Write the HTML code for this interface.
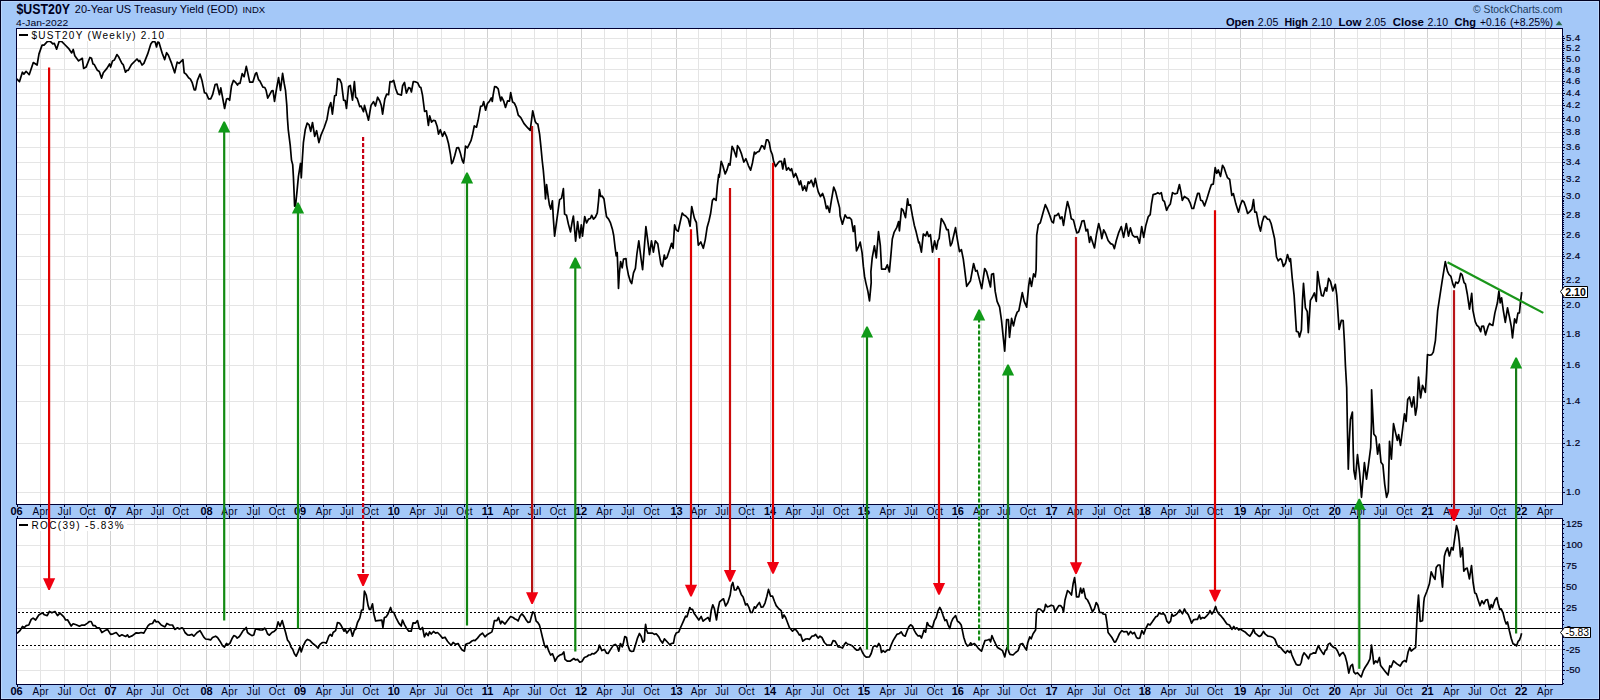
<!DOCTYPE html>
<html><head><meta charset="utf-8"><title>$UST20Y 20-Year US Treasury Yield</title>
<style>html,body{margin:0;padding:0;background:#a4c8f8;}body{width:1600px;height:700px;overflow:hidden;}svg{display:block;font-family:"Liberation Sans",sans-serif;}</style>
</head><body>
<svg width="1600" height="700" viewBox="0 0 1600 700">
<rect x="0" y="0" width="1600" height="700" fill="#a4c8f8"/>
<rect x="0.5" y="0.5" width="1599" height="699" fill="none" stroke="#000020" stroke-width="1"/>
<rect x="1.5" y="1.5" width="1597" height="697" fill="none" stroke="#bcd6fa" stroke-width="1"/>
<rect x="16" y="28" width="1547" height="477" fill="#fff"/>
<rect x="16" y="518" width="1547" height="167" fill="#fff"/>
<g shape-rendering="crispEdges"><path d="M40.5 29 V504 M40.5 519 V684" stroke="#e4e4e4" stroke-width="1" fill="none"/><path d="M64.5 29 V504 M64.5 519 V684" stroke="#e4e4e4" stroke-width="1" fill="none"/><path d="M87.5 29 V504 M87.5 519 V684" stroke="#e4e4e4" stroke-width="1" fill="none"/><path d="M110.5 29 V504 M110.5 519 V684" stroke="#d0d0d0" stroke-width="1" fill="none"/><path d="M134.5 29 V504 M134.5 519 V684" stroke="#e4e4e4" stroke-width="1" fill="none"/><path d="M157.5 29 V504 M157.5 519 V684" stroke="#e4e4e4" stroke-width="1" fill="none"/><path d="M180.5 29 V504 M180.5 519 V684" stroke="#e4e4e4" stroke-width="1" fill="none"/><path d="M206.5 29 V504 M206.5 519 V684" stroke="#d0d0d0" stroke-width="1" fill="none"/><path d="M229.5 29 V504 M229.5 519 V684" stroke="#e4e4e4" stroke-width="1" fill="none"/><path d="M253.5 29 V504 M253.5 519 V684" stroke="#e4e4e4" stroke-width="1" fill="none"/><path d="M276.5 29 V504 M276.5 519 V684" stroke="#e4e4e4" stroke-width="1" fill="none"/><path d="M300.5 29 V504 M300.5 519 V684" stroke="#d0d0d0" stroke-width="1" fill="none"/><path d="M323.5 29 V504 M323.5 519 V684" stroke="#e4e4e4" stroke-width="1" fill="none"/><path d="M346.5 29 V504 M346.5 519 V684" stroke="#e4e4e4" stroke-width="1" fill="none"/><path d="M370.5 29 V504 M370.5 519 V684" stroke="#e4e4e4" stroke-width="1" fill="none"/><path d="M393.5 29 V504 M393.5 519 V684" stroke="#d0d0d0" stroke-width="1" fill="none"/><path d="M417.5 29 V504 M417.5 519 V684" stroke="#e4e4e4" stroke-width="1" fill="none"/><path d="M441.5 29 V504 M441.5 519 V684" stroke="#e4e4e4" stroke-width="1" fill="none"/><path d="M464.5 29 V504 M464.5 519 V684" stroke="#e4e4e4" stroke-width="1" fill="none"/><path d="M487.5 29 V504 M487.5 519 V684" stroke="#d0d0d0" stroke-width="1" fill="none"/><path d="M511.5 29 V504 M511.5 519 V684" stroke="#e4e4e4" stroke-width="1" fill="none"/><path d="M534.5 29 V504 M534.5 519 V684" stroke="#e4e4e4" stroke-width="1" fill="none"/><path d="M557.5 29 V504 M557.5 519 V684" stroke="#e4e4e4" stroke-width="1" fill="none"/><path d="M581.5 29 V504 M581.5 519 V684" stroke="#d0d0d0" stroke-width="1" fill="none"/><path d="M604.5 29 V504 M604.5 519 V684" stroke="#e4e4e4" stroke-width="1" fill="none"/><path d="M627.5 29 V504 M627.5 519 V684" stroke="#e4e4e4" stroke-width="1" fill="none"/><path d="M651.5 29 V504 M651.5 519 V684" stroke="#e4e4e4" stroke-width="1" fill="none"/><path d="M676.5 29 V504 M676.5 519 V684" stroke="#d0d0d0" stroke-width="1" fill="none"/><path d="M698.5 29 V504 M698.5 519 V684" stroke="#e4e4e4" stroke-width="1" fill="none"/><path d="M721.5 29 V504 M721.5 519 V684" stroke="#e4e4e4" stroke-width="1" fill="none"/><path d="M746.5 29 V504 M746.5 519 V684" stroke="#e4e4e4" stroke-width="1" fill="none"/><path d="M770.5 29 V504 M770.5 519 V684" stroke="#d0d0d0" stroke-width="1" fill="none"/><path d="M793.5 29 V504 M793.5 519 V684" stroke="#e4e4e4" stroke-width="1" fill="none"/><path d="M817.5 29 V504 M817.5 519 V684" stroke="#e4e4e4" stroke-width="1" fill="none"/><path d="M841.5 29 V504 M841.5 519 V684" stroke="#e4e4e4" stroke-width="1" fill="none"/><path d="M863.5 29 V504 M863.5 519 V684" stroke="#d0d0d0" stroke-width="1" fill="none"/><path d="M887.5 29 V504 M887.5 519 V684" stroke="#e4e4e4" stroke-width="1" fill="none"/><path d="M911.5 29 V504 M911.5 519 V684" stroke="#e4e4e4" stroke-width="1" fill="none"/><path d="M934.5 29 V504 M934.5 519 V684" stroke="#e4e4e4" stroke-width="1" fill="none"/><path d="M957.5 29 V504 M957.5 519 V684" stroke="#d0d0d0" stroke-width="1" fill="none"/><path d="M981.5 29 V504 M981.5 519 V684" stroke="#e4e4e4" stroke-width="1" fill="none"/><path d="M1003.5 29 V504 M1003.5 519 V684" stroke="#e4e4e4" stroke-width="1" fill="none"/><path d="M1027.5 29 V504 M1027.5 519 V684" stroke="#e4e4e4" stroke-width="1" fill="none"/><path d="M1051.5 29 V504 M1051.5 519 V684" stroke="#d0d0d0" stroke-width="1" fill="none"/><path d="M1075.5 29 V504 M1075.5 519 V684" stroke="#e4e4e4" stroke-width="1" fill="none"/><path d="M1098.5 29 V504 M1098.5 519 V684" stroke="#e4e4e4" stroke-width="1" fill="none"/><path d="M1121.5 29 V504 M1121.5 519 V684" stroke="#e4e4e4" stroke-width="1" fill="none"/><path d="M1144.5 29 V504 M1144.5 519 V684" stroke="#d0d0d0" stroke-width="1" fill="none"/><path d="M1168.5 29 V504 M1168.5 519 V684" stroke="#e4e4e4" stroke-width="1" fill="none"/><path d="M1191.5 29 V504 M1191.5 519 V684" stroke="#e4e4e4" stroke-width="1" fill="none"/><path d="M1215.5 29 V504 M1215.5 519 V684" stroke="#e4e4e4" stroke-width="1" fill="none"/><path d="M1240.5 29 V504 M1240.5 519 V684" stroke="#d0d0d0" stroke-width="1" fill="none"/><path d="M1262.5 29 V504 M1262.5 519 V684" stroke="#e4e4e4" stroke-width="1" fill="none"/><path d="M1285.5 29 V504 M1285.5 519 V684" stroke="#e4e4e4" stroke-width="1" fill="none"/><path d="M1310.5 29 V504 M1310.5 519 V684" stroke="#e4e4e4" stroke-width="1" fill="none"/><path d="M1334.5 29 V504 M1334.5 519 V684" stroke="#d0d0d0" stroke-width="1" fill="none"/><path d="M1357.5 29 V504 M1357.5 519 V684" stroke="#e4e4e4" stroke-width="1" fill="none"/><path d="M1380.5 29 V504 M1380.5 519 V684" stroke="#e4e4e4" stroke-width="1" fill="none"/><path d="M1404.5 29 V504 M1404.5 519 V684" stroke="#e4e4e4" stroke-width="1" fill="none"/><path d="M1427.5 29 V504 M1427.5 519 V684" stroke="#d0d0d0" stroke-width="1" fill="none"/><path d="M1451.5 29 V504 M1451.5 519 V684" stroke="#e4e4e4" stroke-width="1" fill="none"/><path d="M1474.5 29 V504 M1474.5 519 V684" stroke="#e4e4e4" stroke-width="1" fill="none"/><path d="M1498.5 29 V504 M1498.5 519 V684" stroke="#e4e4e4" stroke-width="1" fill="none"/><path d="M1521.5 29 V504 M1521.5 519 V684" stroke="#d0d0d0" stroke-width="1" fill="none"/><path d="M1545.5 29 V504 M1545.5 519 V684" stroke="#e4e4e4" stroke-width="1" fill="none"/><path d="M17 492.5 H1562 M17 443.5 H1562 M17 401.5 H1562 M17 365.5 H1562 M17 334.5 H1562 M17 305.5 H1562 M17 279.5 H1562 M17 256.5 H1562 M17 234.5 H1562 M17 214.5 H1562 M17 196.5 H1562 M17 179.5 H1562 M17 162.5 H1562 M17 147.5 H1562 M17 132.5 H1562 M17 118.5 H1562 M17 105.5 H1562 M17 93.5 H1562 M17 81.5 H1562 M17 69.5 H1562 M17 58.5 H1562 M17 48.5 H1562 M17 38.5 H1562 M17 524.5 H1562 M17 545.5 H1562 M17 566.5 H1562 M17 587.5 H1562 M17 608.5 H1562 M17 649.5 H1562 M17 670.5 H1562" stroke="#e5e5e5" stroke-width="1" fill="none"/></g>
<g shape-rendering="crispEdges"><path d="M17 628.5 H1562" stroke="#000" stroke-width="1"/>
<path d="M18 612.5 H1561 M18 645.5 H1561" stroke="#000" stroke-width="1" stroke-dasharray="2 2"/></g>
<clipPath id="cm"><rect x="17" y="29" width="1545" height="475"/></clipPath>
<clipPath id="cr"><rect x="17" y="519" width="1545" height="165"/></clipPath>
<polyline clip-path="url(#cm)" points="16.7,78.8 19.5,81.6 22.4,72.2 23.9,74.1 26.1,71.3 29.2,74.7 33.3,62.5 37.1,65.0 39.0,53.9 42.1,45.1 44.0,45.1 47.5,41.4 50.3,41.4 52.8,43.9 54.3,43.3 56.6,49.2 59.1,41.4 61.6,41.4 64.7,44.5 68.5,48.3 71.7,52.9 73.2,49.5 74.8,55.8 78.6,60.9 82.3,58.3 83.6,68.4 86.1,67.1 89.9,57.5 91.5,58.3 93.0,64.0 94.3,64.6 97.4,70.3 99.3,71.5 101.6,78.1 103.3,72.8 106.9,68.4 109.6,64.0 110.6,67.1 112.5,60.9 114.4,60.0 116.9,54.6 118.8,57.1 121.9,63.4 123.2,64.6 125.5,72.2 127.0,70.3 128.2,70.3 131.4,64.6 137.0,59.0 138.9,61.5 139.8,60.5 142.0,65.0 143.9,63.4 147.7,53.9 150.8,43.9 152.7,41.4 155.2,42.0 156.5,47.0 157.8,42.0 159.0,42.6 162.2,53.3 164.7,59.6 166.6,52.7 168.4,55.2 171.6,63.4 174.7,72.8 177.2,62.1 179.1,63.4 182.9,59.6 184.2,72.8 186.0,74.1 188.6,77.8 190.4,79.1 192.3,82.9 194.2,89.8 195.5,89.8 197.4,80.3 200.0,74.1 201.9,80.2 204.5,92.8 206.3,93.4 208.6,98.8 210.7,98.8 212.6,94.7 215.1,84.6 217.0,84.2 219.5,94.7 220.8,87.8 224.6,108.5 226.5,99.1 228.1,98.5 229.6,100.3 231.5,85.9 233.4,80.5 235.3,82.1 237.5,85.0 238.4,83.4 240.0,83.4 242.2,73.7 244.1,76.7 246.3,66.4 247.6,72.1 249.7,82.1 252.9,82.1 255.4,73.7 256.6,72.7 258.5,79.6 259.8,80.9 262.9,87.1 264.8,87.5 266.1,90.3 267.7,98.1 271.7,90.9 273.0,90.7 274.5,101.3 276.7,87.8 278.6,77.5 280.5,90.3 282.6,73.3 284.3,84.0 285.5,90.3 286.8,105.4 287.4,117.9 288.3,130.1 290.2,145.1 291.5,160.2 292.7,164.6 293.4,176.6 294.0,190.4 294.6,206.1 295.5,206.1 297.1,190.4 298.4,176.6 300.5,163.4 301.3,177.8 302.2,161.5 303.4,142.6 305.3,129.4 307.2,123.1 309.1,124.8 310.7,131.3 312.5,122.5 314.7,136.3 316.6,130.7 318.9,142.6 321.0,135.1 324.2,127.5 327.0,119.2 328.9,107.9 330.8,102.6 332.4,114.2 334.6,95.9 336.1,95.3 337.7,78.7 339.6,79.2 341.5,83.4 343.6,100.1 345.2,100.6 346.5,108.5 348.6,86.5 350.3,85.5 352.5,100.1 354.4,81.5 355.7,97.2 357.2,98.5 359.7,106.6 361.0,106.0 363.5,111.7 364.5,105.4 368.5,120.2 371.0,105.4 373.5,101.6 375.4,106.0 377.6,97.2 379.8,101.0 381.3,105.4 382.6,114.2 384.8,99.1 386.7,94.1 388.6,94.7 390.0,81.5 391.9,81.9 393.6,80.3 395.7,88.8 397.6,93.9 399.5,94.5 401.4,95.1 402.6,85.7 404.5,82.5 406.4,93.2 408.7,87.6 410.2,88.2 411.4,92.0 413.3,81.5 415.8,81.9 417.7,82.8 419.6,86.9 420.9,87.6 422.5,95.1 424.6,111.5 426.5,110.8 428.4,125.3 429.7,115.9 431.5,122.1 433.4,120.3 435.3,120.9 437.2,126.5 438.5,134.1 440.3,129.7 442.5,136.3 444.4,131.8 446.6,136.6 448.5,143.5 450.4,154.2 451.7,163.6 452.9,161.7 454.8,155.5 456.7,147.9 458.6,147.7 460.5,153.6 462.3,160.5 463.6,163.0 464.5,156.7 465.5,146.0 467.4,147.9 469.3,144.1 471.1,140.4 472.4,135.3 474.3,125.9 476.5,127.2 478.1,120.3 480.6,106.4 482.5,105.8 483.7,101.6 485.6,110.2 487.5,103.3 489.4,101.4 491.3,97.9 492.3,101.4 493.1,95.1 494.6,86.6 496.3,86.9 498.2,88.8 499.4,95.1 500.7,100.8 501.7,97.0 503.8,101.4 505.5,107.4 507.6,100.8 509.5,101.1 510.7,92.6 512.6,102.0 514.5,103.3 516.4,107.7 518.3,115.2 520.8,117.7 523.9,123.4 527.1,127.2 530.2,130.3 531.5,120.3 532.7,110.8 535.2,121.5 536.5,123.4 537.8,124.0 539.6,134.1 540.9,146.7 542.2,160.5 543.3,170.1 544.5,183.9 545.5,199.0 546.6,184.5 548.3,197.7 549.5,205.3 550.8,209.1 552.4,200.9 553.3,217.9 554.6,236.1 557.1,217.9 559.6,199.6 561.5,198.4 563.4,188.7 564.6,214.1 566.5,215.3 568.4,224.1 570.5,231.9 572.2,221.6 573.4,216.0 575.6,241.1 577.6,221.6 579.7,238.0 581.3,224.8 582.5,236.1 584.7,216.6 586.6,222.9 588.5,219.1 590.4,218.5 591.7,215.3 593.5,219.1 595.4,217.2 597.3,212.8 598.6,200.3 599.4,189.6 600.7,196.5 602.3,196.2 604.0,199.0 605.2,207.8 606.5,216.6 608.6,219.1 610.5,222.9 612.4,229.2 613.7,235.5 615.1,247.7 616.2,255.9 617.2,252.5 617.8,267.8 618.5,288.5 619.3,274.1 620.6,261.5 622.2,267.8 623.5,259.0 626.0,258.7 626.6,265.3 628.5,275.3 630.4,281.6 631.7,283.5 633.5,272.8 635.4,268.4 636.9,254.0 638.8,240.8 641.1,259.0 642.6,269.7 644.2,248.9 645.9,226.6 647.7,240.1 649.5,254.6 651.5,240.8 653.4,252.1 655.3,240.8 657.8,243.9 659.3,254.0 660.9,264.0 662.5,266.5 664.3,255.0 665.3,259.2 666.9,257.7 669.4,250.2 671.6,243.3 673.1,248.3 674.6,224.8 676.3,230.1 678.2,231.3 680.1,222.5 682.2,213.1 683.8,215.0 685.7,216.0 688.2,218.8 690.1,226.3 691.7,206.5 694.3,217.9 695.1,220.0 696.4,222.5 698.3,245.2 700.8,242.0 703.3,248.3 705.2,240.1 707.1,227.6 709.0,220.7 710.7,213.0 712.4,200.4 713.9,198.5 716.1,200.4 717.4,185.3 718.7,174.6 719.3,177.1 721.2,161.4 722.7,165.2 725.2,174.0 727.1,169.6 728.7,163.7 730.0,165.2 732.1,146.3 733.7,149.5 736.3,157.0 737.5,145.7 739.3,148.2 741.5,153.9 743.8,162.1 745.9,158.7 748.5,165.8 750.6,170.2 752.5,162.7 754.4,152.0 755.4,153.9 757.3,152.0 759.1,151.4 761.7,145.7 762.9,146.1 764.5,149.1 766.4,139.8 767.9,139.8 769.2,142.6 770.7,150.7 772.3,154.5 773.6,161.4 775.5,166.5 778.0,162.9 779.5,161.4 781.5,161.4 782.8,169.0 784.5,158.7 786.5,170.2 788.4,167.7 790.3,170.5 791.6,168.7 793.7,177.1 795.6,173.4 797.5,178.4 799.4,184.7 800.6,180.9 802.8,190.3 804.6,185.9 806.3,191.0 808.2,181.8 809.4,183.4 811.3,180.3 813.6,186.6 815.3,178.4 817.0,186.6 818.2,191.6 820.5,196.6 822.6,193.5 824.5,199.1 826.4,208.6 827.6,206.1 829.5,212.3 831.4,200.4 833.7,187.2 835.6,191.6 837.7,200.4 839.6,207.9 840.1,215.7 842.4,224.2 845.1,214.9 847.0,217.9 849.5,217.6 851.4,219.5 853.3,231.5 854.6,225.8 856.5,250.9 858.3,247.2 860.2,242.1 862.1,252.8 863.4,266.7 864.6,276.7 865.8,282.6 867.9,291.4 869.5,300.8 871.2,282.6 870.9,271.7 872.2,257.9 874.4,245.9 876.3,257.9 878.5,231.7 880.3,245.3 881.6,269.2 885.4,269.2 887.3,264.8 889.4,271.9 891.0,254.1 892.3,239.0 894.2,232.1 896.7,227.7 898.6,221.6 899.4,230.8 901.5,208.6 903.0,210.1 905.5,217.6 907.6,198.8 908.6,205.1 910.5,204.8 912.4,215.7 914.3,225.2 916.2,232.1 918.7,242.8 919.3,242.1 921.4,252.2 923.3,234.0 925.6,235.9 927.1,231.7 928.7,236.5 930.4,234.6 932.5,252.2 934.6,240.9 936.5,249.1 937.9,240.9 939.2,238.4 941.3,218.6 943.2,221.4 945.1,225.2 946.7,229.6 948.2,229.6 950.5,245.9 952.0,242.8 955.5,227.7 957.6,240.9 959.5,251.6 961.4,249.7 963.3,259.1 964.6,269.2 966.7,286.3 970.5,280.7 973.6,263.5 975.6,271.1 977.1,270.4 981.7,288.6 984.7,268.5 986.6,271.7 990.5,287.0 991.6,274.2 993.5,273.6 995.2,291.4 997.1,301.4 999.6,307.1 1001.5,320.3 1004.7,351.1 1006.6,319.7 1008.4,319.7 1009.5,337.3 1011.6,318.4 1013.5,325.9 1015.4,317.1 1017.2,312.1 1018.8,310.9 1022.3,292.6 1024.2,301.4 1026.7,307.1 1028.6,286.3 1029.8,278.2 1031.5,286.3 1033.6,273.8 1035.2,276.9 1036.1,270.0 1036.7,235.4 1038.3,224.7 1040.2,222.9 1042.7,214.1 1045.3,204.6 1047.1,208.4 1049.7,215.3 1051.8,221.6 1053.4,222.9 1054.7,215.6 1056.6,215.3 1058.5,213.4 1060.3,218.8 1062.0,216.8 1063.5,225.4 1065.4,212.8 1067.5,201.5 1069.4,208.4 1071.3,218.8 1073.5,220.1 1075.4,227.9 1076.9,232.9 1078.6,232.3 1080.5,226.6 1082.0,221.0 1084.0,220.6 1086.1,231.0 1087.6,229.4 1089.5,242.3 1090.8,236.7 1093.0,243.6 1094.5,248.0 1096.5,234.2 1098.7,223.5 1100.6,231.0 1101.8,238.6 1103.7,229.8 1105.6,233.5 1108.1,240.5 1110.6,243.6 1112.8,244.5 1114.4,248.6 1116.3,240.5 1118.8,232.3 1121.3,226.6 1123.6,237.3 1126.3,223.5 1128.5,236.1 1130.4,227.9 1132.6,235.2 1134.5,236.9 1137.3,236.7 1139.5,243.2 1141.7,226.6 1143.7,237.3 1145.8,225.4 1148.3,216.6 1150.2,214.7 1151.5,204.0 1153.1,194.6 1155.9,193.9 1157.8,192.7 1159.6,193.9 1161.3,192.7 1162.8,200.2 1164.4,201.5 1166.6,210.3 1168.4,206.5 1170.3,204.0 1172.5,192.7 1175.0,193.9 1177.2,193.3 1179.4,184.5 1181.0,192.1 1182.3,200.3 1184.4,196.5 1186.3,197.8 1188.2,199.0 1190.1,202.8 1191.9,208.5 1193.6,208.5 1195.7,200.3 1197.6,193.4 1199.2,193.4 1200.7,200.3 1202.4,200.9 1204.5,205.9 1207.0,198.4 1209.5,190.2 1211.4,184.6 1213.3,184.2 1215.2,167.6 1216.7,173.3 1218.3,169.9 1220.5,176.4 1222.5,165.3 1224.0,167.6 1225.9,173.3 1227.5,177.7 1229.7,179.5 1231.8,195.3 1233.4,193.7 1235.9,204.1 1238.5,212.2 1240.3,205.3 1242.2,200.5 1244.1,202.2 1246.0,207.8 1247.6,213.5 1249.8,211.6 1251.9,209.1 1253.5,199.7 1254.8,212.2 1256.4,212.2 1258.6,224.2 1260.5,231.1 1262.3,221.7 1264.0,216.4 1265.5,216.4 1267.4,219.1 1269.3,219.4 1271.1,223.5 1273.0,231.7 1274.6,238.8 1276.5,257.0 1278.3,260.8 1280.2,258.7 1281.5,259.5 1283.4,266.5 1285.5,263.3 1287.5,254.5 1289.7,261.4 1290.5,258.7 1292.2,277.8 1294.1,295.4 1296.4,331.4 1298.3,332.0 1299.5,337.0 1301.4,330.1 1302.5,300.4 1303.5,283.4 1305.4,307.9 1307.3,311.7 1308.3,332.6 1310.4,300.4 1312.3,297.3 1314.4,292.9 1316.3,301.4 1317.6,271.5 1319.4,284.1 1321.5,295.4 1323.2,296.0 1325.5,287.8 1326.7,291.0 1328.6,278.4 1330.5,281.5 1332.8,291.0 1335.3,284.3 1336.8,295.4 1339.1,329.5 1341.4,320.3 1343.2,320.7 1344.4,341.4 1345.4,365.3 1346.7,387.9 1347.4,427.7 1348.3,469.2 1349.2,442.8 1350.4,419.5 1352.4,412.0 1353.3,452.9 1353.9,470.5 1355.4,479.1 1357.5,454.6 1359.6,472.8 1361.5,497.3 1364.4,462.7 1366.5,479.1 1368.4,465.3 1370.7,447.7 1371.5,421.3 1371.6,389.8 1372.2,402.6 1373.8,434.0 1375.9,436.8 1377.6,454.1 1379.3,444.1 1381.0,462.3 1382.9,464.8 1384.7,484.1 1386.6,497.3 1388.3,491.7 1389.5,441.4 1391.4,459.1 1393.5,423.7 1395.4,432.1 1397.3,440.3 1398.6,434.6 1400.5,445.3 1402.3,431.5 1404.5,413.9 1406.1,421.4 1407.7,399.4 1409.5,396.9 1411.8,407.0 1413.7,396.9 1415.5,415.1 1417.0,406.3 1418.5,377.2 1420.6,397.9 1422.5,385.4 1425.4,392.3 1426.6,372.8 1427.5,354.6 1429.8,355.2 1431.7,354.6 1433.3,352.1 1435.4,340.7 1437.7,310.3 1442.1,281.4 1445.3,261.6 1447.5,271.4 1449.0,274.5 1450.9,276.4 1452.8,283.9 1454.3,287.5 1455.9,282.1 1457.8,283.3 1459.1,280.8 1460.7,273.3 1462.2,275.1 1464.1,282.7 1465.4,283.9 1467.3,294.0 1469.5,309.1 1471.7,293.4 1472.9,310.3 1475.2,321.7 1476.9,325.4 1478.6,326.7 1480.7,331.7 1481.7,326.4 1483.6,326.1 1485.5,334.9 1488.0,326.7 1489.5,323.5 1491.1,324.8 1492.8,325.4 1494.9,312.9 1497.4,302.8 1498.9,291.2 1500.2,302.8 1501.6,297.8 1503.3,310.3 1505.3,322.3 1507.5,307.8 1509.4,316.6 1511.3,326.7 1512.5,338.0 1514.6,318.9 1516.3,322.9 1517.9,313.1 1519.4,312.9 1520.4,302.8 1521.7,292.1" fill="none" stroke="#000" stroke-width="1.7" stroke-linejoin="round"/>
<polyline clip-path="url(#cr)" points="16.9,633.5 20.0,630.6 22.5,626.5 24.4,627.5 26.2,625.6 28.8,625.0 31.2,619.4 33.1,618.1 35.6,620.0 38.8,615.0 42.5,612.8 44.4,614.8 47.2,615.6 49.4,611.5 51.9,612.8 55.0,611.5 57.5,615.6 60.0,613.1 63.8,616.9 65.6,620.0 67.5,619.8 71.2,626.0 73.1,623.8 76.2,624.8 79.4,626.2 81.9,625.0 84.4,625.2 87.5,623.1 89.4,621.5 91.2,621.5 93.1,625.6 95.0,625.6 96.9,627.8 99.4,627.8 101.9,632.5 105.0,630.6 107.5,629.4 110.6,634.4 113.1,633.8 116.2,632.5 119.4,636.2 121.9,634.8 125.6,636.5 127.5,634.8 128.8,637.2 132.5,635.6 136.2,632.8 138.8,633.1 141.2,632.5 143.8,633.1 148.1,625.6 150.0,624.0 152.5,623.5 154.6,619.8 156.2,621.9 158.1,621.5 161.2,625.0 165.0,626.9 166.9,623.5 169.4,624.8 172.5,625.0 174.8,629.4 177.5,627.8 179.4,629.0 181.9,627.8 183.1,628.5 185.0,632.5 187.5,634.8 189.4,635.2 191.9,634.4 193.8,636.2 196.9,632.8 200.0,630.6 201.9,633.8 203.8,637.2 205.6,639.0 208.8,639.4 210.6,640.0 212.5,637.5 215.6,636.2 217.5,637.5 220.0,641.2 222.5,645.6 224.4,647.2 226.5,643.5 228.1,644.8 230.0,643.1 231.9,638.8 233.8,635.6 235.6,636.2 237.2,638.1 239.4,636.5 241.2,633.8 243.1,630.6 245.0,629.0 246.2,627.5 247.5,632.5 249.4,634.0 251.9,635.6 253.8,635.0 255.6,628.8 258.1,629.4 260.0,630.0 262.5,630.0 264.6,628.1 266.0,630.0 267.5,633.8 269.4,635.2 271.9,632.5 274.4,631.2 276.2,629.4 278.1,621.9 280.0,626.2 282.2,620.6 283.8,626.2 285.6,632.5 287.5,640.0 289.4,642.5 291.2,647.5 292.5,648.8 294.4,653.8 296.2,656.2 298.1,651.9 300.0,646.9 301.2,651.9 303.1,646.2 305.6,641.2 307.5,639.4 310.0,640.6 313.1,643.8 315.6,645.6 318.1,648.1 320.0,644.4 322.5,642.5 324.4,642.5 326.2,643.1 327.5,640.0 328.8,636.2 330.2,634.4 331.9,636.2 333.1,632.5 335.6,630.6 337.5,622.5 339.4,623.1 341.2,625.6 344.0,631.2 345.2,629.4 346.9,633.1 348.8,630.6 350.4,628.1 352.5,636.2 354.4,630.0 355.6,629.4 357.5,622.5 359.8,618.1 361.6,610.0 363.1,610.0 364.4,591.2 366.2,595.0 368.1,605.6 369.4,609.4 370.6,609.4 372.5,603.8 373.8,613.8 375.6,621.0 377.5,620.6 381.9,620.2 382.9,627.5 384.4,617.5 386.2,616.9 388.1,613.8 390.6,607.5 391.9,611.9 393.8,612.5 396.2,618.1 398.8,623.1 401.2,626.0 402.5,620.0 404.4,624.4 406.9,628.8 408.8,631.2 411.2,631.2 413.1,622.8 415.6,623.1 417.5,620.6 419.4,628.8 420.6,629.4 422.5,627.5 424.4,636.9 426.2,633.1 428.1,635.6 429.6,631.9 431.2,634.0 433.5,631.5 435.6,633.1 437.5,632.5 440.0,635.0 442.5,638.1 445.0,637.2 447.5,641.2 449.4,643.5 451.2,645.2 453.1,642.5 455.6,644.4 458.1,643.5 460.0,646.9 461.9,649.8 464.4,651.2 465.6,644.4 467.5,643.5 469.4,643.1 471.9,641.0 473.8,640.2 475.0,640.6 477.5,638.1 480.0,635.0 482.5,633.1 485.0,636.9 487.5,634.4 490.0,633.1 491.9,631.9 493.1,627.5 494.4,620.6 496.9,620.6 498.5,617.5 500.6,623.8 501.9,621.2 505.0,624.0 507.5,620.6 510.6,616.5 513.1,617.5 515.0,619.0 516.9,619.8 518.1,621.0 520.0,616.2 521.9,613.8 524.4,616.9 526.2,620.0 528.1,622.5 530.0,621.9 531.5,616.2 532.8,611.9 534.4,613.1 536.2,621.2 537.8,622.5 539.4,625.0 540.6,629.4 542.5,637.5 544.4,645.0 545.6,647.5 546.9,645.6 548.8,651.2 550.6,655.0 552.5,653.8 554.4,658.8 555.0,661.2 557.5,656.9 560.0,655.0 561.9,654.4 563.8,651.9 565.0,659.4 567.5,661.2 570.0,661.2 573.8,658.5 575.6,660.0 577.5,659.4 579.8,662.2 581.9,661.5 584.4,657.5 586.9,656.5 588.8,655.0 590.6,654.8 592.2,653.5 593.8,654.0 596.2,652.2 598.1,650.0 599.4,645.2 601.9,650.6 604.4,649.4 606.5,653.1 608.1,653.5 610.6,649.4 613.1,645.6 615.2,644.4 617.2,646.2 618.8,651.2 620.4,643.5 622.2,646.9 623.5,642.5 624.8,636.5 626.5,637.5 627.8,645.0 629.8,650.6 631.5,651.5 633.5,651.2 635.6,644.4 637.5,638.1 639.4,633.5 641.2,636.5 642.9,642.2 644.4,640.6 645.0,630.0 645.6,624.4 646.5,630.0 647.8,633.1 652.5,633.1 654.4,634.4 656.2,633.8 658.8,636.9 660.6,640.6 662.5,643.1 664.4,638.8 666.9,641.5 670.0,645.0 671.2,643.5 673.5,643.1 674.8,636.2 676.2,633.1 678.8,631.9 680.6,627.5 683.1,621.9 685.6,616.2 686.9,616.9 688.1,613.1 689.8,607.5 691.2,609.4 692.5,609.4 694.4,613.8 696.2,616.2 698.8,620.0 701.2,616.5 703.1,621.2 705.2,619.4 708.1,617.5 709.8,621.2 711.2,610.6 712.8,604.8 714.4,608.8 716.5,620.0 718.1,608.8 719.6,601.9 721.9,599.8 723.5,598.8 725.6,606.0 727.8,602.5 730.2,595.0 731.5,585.6 732.8,582.5 734.4,590.0 736.2,590.0 737.8,586.5 739.4,589.4 741.2,594.4 743.1,596.9 745.6,605.0 747.2,603.8 749.0,607.5 750.6,612.5 752.2,612.5 754.4,606.9 755.6,608.1 757.5,605.0 759.4,602.5 761.2,607.2 763.1,606.9 765.0,603.1 766.9,596.2 768.5,589.4 770.6,596.2 772.5,596.0 774.4,601.2 776.2,605.6 778.8,608.8 781.2,610.6 782.5,618.1 784.0,615.0 785.6,617.5 787.5,622.5 789.4,627.5 792.5,631.2 795.0,628.8 797.5,631.9 799.4,635.0 800.6,634.4 802.8,641.2 805.6,639.0 807.5,638.8 809.4,639.4 811.9,636.2 813.8,636.0 815.6,634.4 818.1,638.1 820.0,636.2 821.9,637.5 824.4,642.5 826.9,645.0 829.4,645.2 831.2,645.0 833.1,640.6 835.0,641.0 836.9,644.4 838.1,646.9 840.6,647.2 842.5,648.1 844.4,644.4 845.9,642.5 847.5,644.0 850.0,644.8 852.5,646.0 855.0,648.8 856.9,650.2 858.8,649.8 860.2,647.5 862.5,652.5 864.4,655.6 866.2,657.2 869.4,656.9 871.2,653.5 873.1,646.9 875.0,645.6 876.9,646.9 878.8,643.5 880.2,645.6 881.5,652.5 883.1,650.6 885.0,652.2 887.5,649.8 889.4,650.0 891.2,645.0 893.1,640.6 895.0,637.5 896.9,634.4 899.4,633.5 901.2,631.9 903.1,635.2 905.2,636.2 906.9,631.5 908.8,626.9 910.6,624.8 912.5,626.2 914.4,630.6 916.2,633.8 918.1,636.0 920.0,635.6 921.5,638.1 923.1,633.1 924.0,630.0 925.6,632.2 927.2,622.5 928.8,625.6 930.6,626.5 932.5,627.5 934.4,620.6 936.2,617.5 938.1,610.6 939.8,607.5 941.2,610.0 943.1,615.6 945.0,620.6 946.5,619.8 948.1,625.0 949.8,628.5 951.2,622.5 952.8,618.8 955.6,615.6 957.5,621.2 959.4,622.5 961.2,625.0 962.5,631.2 963.8,637.5 965.6,643.1 967.5,646.0 969.4,645.0 970.6,642.8 971.9,644.8 974.4,643.5 976.2,645.6 978.1,648.1 980.0,649.8 981.5,651.2 983.1,646.2 985.0,640.6 987.5,640.0 989.4,639.4 990.6,641.9 991.9,635.6 993.8,640.0 995.6,643.8 997.5,647.5 1000.0,649.0 1002.5,650.6 1004.8,656.9 1006.2,650.0 1007.5,646.5 1008.8,651.9 1010.0,654.4 1013.1,655.0 1015.6,652.5 1018.1,650.6 1020.2,644.4 1022.5,643.5 1024.4,646.9 1026.5,650.0 1027.8,642.5 1029.8,636.9 1031.2,638.8 1033.1,633.8 1035.6,630.0 1036.5,611.9 1038.1,608.8 1040.0,609.0 1043.1,611.9 1044.4,610.0 1045.6,604.4 1047.2,606.9 1049.4,606.2 1051.2,605.2 1053.5,606.0 1055.0,611.9 1056.9,608.8 1058.8,605.6 1060.6,605.6 1062.5,608.1 1063.5,612.2 1065.0,600.0 1067.5,590.6 1069.4,592.2 1071.5,595.0 1073.1,583.8 1074.6,577.5 1075.6,586.2 1076.5,596.9 1078.8,596.9 1080.6,588.1 1081.9,593.1 1083.5,588.5 1085.6,598.1 1087.5,600.0 1089.4,603.8 1092.5,611.9 1094.4,608.8 1096.2,602.5 1097.9,605.2 1099.6,612.5 1101.9,612.5 1103.1,614.0 1105.6,614.4 1106.9,622.5 1108.1,632.5 1110.0,635.0 1111.9,637.5 1114.4,642.2 1115.6,641.9 1117.5,638.1 1119.4,633.8 1121.9,630.6 1123.8,631.9 1126.9,631.5 1128.4,634.8 1130.6,631.5 1132.5,633.8 1134.4,632.5 1136.5,637.5 1138.1,638.5 1139.8,638.1 1141.9,630.6 1143.8,634.0 1145.6,628.8 1148.1,624.0 1150.0,625.0 1152.5,621.5 1155.6,616.9 1157.2,616.2 1159.4,612.8 1161.2,614.0 1163.8,613.8 1165.2,615.6 1166.9,621.2 1168.8,623.1 1170.6,621.2 1171.9,614.0 1173.1,616.2 1175.6,615.0 1177.5,613.1 1179.8,610.0 1182.5,613.8 1184.4,609.0 1186.2,612.5 1188.1,614.4 1190.0,618.8 1191.6,623.1 1193.5,619.8 1195.6,619.4 1197.5,619.4 1199.4,615.0 1200.6,619.0 1202.5,617.5 1204.4,618.1 1206.9,615.6 1208.5,613.8 1210.0,610.6 1211.9,614.0 1213.8,611.2 1215.6,606.5 1216.9,610.6 1218.8,613.8 1221.2,616.2 1223.8,619.4 1226.9,624.0 1229.4,625.0 1231.9,629.4 1233.8,626.5 1235.2,629.0 1236.9,627.8 1238.8,630.0 1240.0,628.8 1242.5,630.6 1245.0,631.9 1247.5,634.4 1249.8,636.2 1251.9,633.1 1253.5,629.0 1255.0,633.1 1257.5,635.2 1259.4,636.5 1261.2,635.2 1263.5,631.5 1265.6,634.4 1268.1,636.2 1270.6,636.5 1273.1,637.5 1275.0,639.4 1276.9,644.4 1278.8,646.9 1280.6,647.5 1283.1,650.6 1285.6,653.1 1287.5,650.6 1289.4,652.5 1290.6,650.6 1291.9,655.0 1293.8,659.4 1296.2,664.4 1298.1,665.2 1300.0,665.0 1301.2,662.5 1302.5,656.2 1304.0,652.8 1306.2,655.2 1308.5,658.8 1310.2,654.4 1311.9,653.8 1313.8,652.8 1315.6,653.1 1316.9,649.4 1318.4,645.6 1320.0,649.0 1321.9,651.9 1323.8,654.4 1325.4,650.0 1326.6,649.8 1328.1,644.4 1330.0,643.1 1331.9,646.0 1333.8,647.5 1335.6,648.1 1337.5,651.0 1339.6,656.0 1341.2,653.8 1343.1,652.5 1345.0,655.6 1346.9,662.5 1348.8,673.1 1350.6,666.2 1352.5,664.4 1353.8,671.9 1355.6,673.8 1357.5,672.8 1359.4,675.0 1361.2,676.9 1363.1,671.2 1365.0,667.5 1367.5,663.8 1370.0,658.8 1371.5,645.2 1372.8,655.0 1373.8,663.8 1375.6,661.0 1377.5,662.5 1379.4,657.5 1380.6,665.6 1383.1,668.8 1385.0,671.2 1388.1,675.0 1389.8,665.8 1391.2,667.0 1393.5,660.8 1396.9,663.9 1400.2,666.0 1402.5,662.0 1404.8,660.5 1406.2,661.8 1408.1,652.0 1409.8,647.6 1411.2,651.0 1413.8,648.9 1415.6,647.6 1416.5,628.2 1417.5,607.0 1418.5,595.0 1420.2,621.4 1422.5,620.8 1423.8,602.0 1424.4,597.5 1426.9,591.2 1429.4,583.8 1431.2,571.9 1433.1,576.2 1435.0,579.4 1436.2,567.5 1438.1,565.0 1440.0,565.0 1441.2,575.0 1442.5,587.2 1444.4,556.2 1445.6,551.9 1447.5,547.8 1449.4,556.0 1451.5,547.5 1453.1,550.0 1455.0,536.2 1456.5,525.6 1458.1,531.2 1459.4,542.5 1460.6,556.9 1462.5,547.8 1463.8,571.2 1465.6,568.8 1467.2,568.1 1469.4,578.8 1471.5,565.6 1473.1,582.5 1474.8,593.1 1476.2,593.8 1478.1,600.0 1480.0,605.8 1481.9,600.8 1483.8,603.9 1485.6,600.1 1487.5,599.5 1489.8,609.5 1491.2,604.5 1492.5,607.6 1495.0,600.1 1496.9,597.6 1498.1,603.2 1499.8,609.5 1501.2,608.9 1503.1,613.2 1505.0,620.8 1506.2,623.9 1507.5,622.0 1509.4,630.8 1511.2,638.2 1513.1,643.9 1515.0,644.5 1516.5,646.0 1518.1,641.4 1519.4,640.1 1520.6,637.0 1521.6,633.2" fill="none" stroke="#000" stroke-width="1.7" stroke-linejoin="round"/>
<rect x="17" y="29" width="150" height="12" fill="#fff"/>
<rect x="19" y="34" width="9" height="2" fill="#000"/>
<text x="31.5" y="38.8" font-size="10" letter-spacing="1.25" fill="#000">$UST20Y (Weekly) 2.10</text>
<rect x="17" y="519" width="110" height="12" fill="#fff"/>
<rect x="19" y="524" width="9" height="2" fill="#000"/>
<text x="31.5" y="528.5" font-size="10" letter-spacing="1.35" fill="#000">ROC(39) -5.83%</text>
<g shape-rendering="crispEdges" fill="none" stroke="#000033" stroke-width="1">
<rect x="16.5" y="28.5" width="1546" height="476"/>
<rect x="16.5" y="518.5" width="1546" height="166"/>
<path d="M17.5 505 v2 M17.5 518 v-2 M17.5 685 v2 M40.5 505 v2 M40.5 518 v-2 M40.5 685 v2 M64.5 505 v2 M64.5 518 v-2 M64.5 685 v2 M87.5 505 v2 M87.5 518 v-2 M87.5 685 v2 M110.5 505 v2 M110.5 518 v-2 M110.5 685 v2 M134.5 505 v2 M134.5 518 v-2 M134.5 685 v2 M157.5 505 v2 M157.5 518 v-2 M157.5 685 v2 M180.5 505 v2 M180.5 518 v-2 M180.5 685 v2 M206.5 505 v2 M206.5 518 v-2 M206.5 685 v2 M229.5 505 v2 M229.5 518 v-2 M229.5 685 v2 M253.5 505 v2 M253.5 518 v-2 M253.5 685 v2 M276.5 505 v2 M276.5 518 v-2 M276.5 685 v2 M300.5 505 v2 M300.5 518 v-2 M300.5 685 v2 M323.5 505 v2 M323.5 518 v-2 M323.5 685 v2 M346.5 505 v2 M346.5 518 v-2 M346.5 685 v2 M370.5 505 v2 M370.5 518 v-2 M370.5 685 v2 M393.5 505 v2 M393.5 518 v-2 M393.5 685 v2 M417.5 505 v2 M417.5 518 v-2 M417.5 685 v2 M441.5 505 v2 M441.5 518 v-2 M441.5 685 v2 M464.5 505 v2 M464.5 518 v-2 M464.5 685 v2 M487.5 505 v2 M487.5 518 v-2 M487.5 685 v2 M511.5 505 v2 M511.5 518 v-2 M511.5 685 v2 M534.5 505 v2 M534.5 518 v-2 M534.5 685 v2 M557.5 505 v2 M557.5 518 v-2 M557.5 685 v2 M581.5 505 v2 M581.5 518 v-2 M581.5 685 v2 M604.5 505 v2 M604.5 518 v-2 M604.5 685 v2 M627.5 505 v2 M627.5 518 v-2 M627.5 685 v2 M651.5 505 v2 M651.5 518 v-2 M651.5 685 v2 M676.5 505 v2 M676.5 518 v-2 M676.5 685 v2 M698.5 505 v2 M698.5 518 v-2 M698.5 685 v2 M721.5 505 v2 M721.5 518 v-2 M721.5 685 v2 M746.5 505 v2 M746.5 518 v-2 M746.5 685 v2 M770.5 505 v2 M770.5 518 v-2 M770.5 685 v2 M793.5 505 v2 M793.5 518 v-2 M793.5 685 v2 M817.5 505 v2 M817.5 518 v-2 M817.5 685 v2 M841.5 505 v2 M841.5 518 v-2 M841.5 685 v2 M863.5 505 v2 M863.5 518 v-2 M863.5 685 v2 M887.5 505 v2 M887.5 518 v-2 M887.5 685 v2 M911.5 505 v2 M911.5 518 v-2 M911.5 685 v2 M934.5 505 v2 M934.5 518 v-2 M934.5 685 v2 M957.5 505 v2 M957.5 518 v-2 M957.5 685 v2 M981.5 505 v2 M981.5 518 v-2 M981.5 685 v2 M1003.5 505 v2 M1003.5 518 v-2 M1003.5 685 v2 M1027.5 505 v2 M1027.5 518 v-2 M1027.5 685 v2 M1051.5 505 v2 M1051.5 518 v-2 M1051.5 685 v2 M1075.5 505 v2 M1075.5 518 v-2 M1075.5 685 v2 M1098.5 505 v2 M1098.5 518 v-2 M1098.5 685 v2 M1121.5 505 v2 M1121.5 518 v-2 M1121.5 685 v2 M1144.5 505 v2 M1144.5 518 v-2 M1144.5 685 v2 M1168.5 505 v2 M1168.5 518 v-2 M1168.5 685 v2 M1191.5 505 v2 M1191.5 518 v-2 M1191.5 685 v2 M1215.5 505 v2 M1215.5 518 v-2 M1215.5 685 v2 M1240.5 505 v2 M1240.5 518 v-2 M1240.5 685 v2 M1262.5 505 v2 M1262.5 518 v-2 M1262.5 685 v2 M1285.5 505 v2 M1285.5 518 v-2 M1285.5 685 v2 M1310.5 505 v2 M1310.5 518 v-2 M1310.5 685 v2 M1334.5 505 v2 M1334.5 518 v-2 M1334.5 685 v2 M1357.5 505 v2 M1357.5 518 v-2 M1357.5 685 v2 M1380.5 505 v2 M1380.5 518 v-2 M1380.5 685 v2 M1404.5 505 v2 M1404.5 518 v-2 M1404.5 685 v2 M1427.5 505 v2 M1427.5 518 v-2 M1427.5 685 v2 M1451.5 505 v2 M1451.5 518 v-2 M1451.5 685 v2 M1474.5 505 v2 M1474.5 518 v-2 M1474.5 685 v2 M1498.5 505 v2 M1498.5 518 v-2 M1498.5 685 v2 M1521.5 505 v2 M1521.5 518 v-2 M1521.5 685 v2 M1545.5 505 v2 M1545.5 518 v-2 M1545.5 685 v2"/>
<path d="M1563 492.5 h2 M1563 487.5 h1 M1563 481.5 h1 M1563 476.5 h1 M1563 471.5 h1 M1563 466.5 h1 M1563 461.5 h1 M1563 457.5 h1 M1563 452.5 h1 M1563 447.5 h1 M1563 443.5 h2 M1563 438.5 h1 M1563 434.5 h1 M1563 430.5 h1 M1563 425.5 h1 M1563 421.5 h1 M1563 417.5 h1 M1563 413.5 h1 M1563 409.5 h1 M1563 405.5 h1 M1563 401.5 h2 M1563 397.5 h1 M1563 394.5 h1 M1563 390.5 h1 M1563 386.5 h1 M1563 383.5 h1 M1563 379.5 h1 M1563 376.5 h1 M1563 372.5 h1 M1563 369.5 h1 M1563 365.5 h2 M1563 362.5 h1 M1563 359.5 h1 M1563 355.5 h1 M1563 352.5 h1 M1563 349.5 h1 M1563 346.5 h1 M1563 343.5 h1 M1563 340.5 h1 M1563 337.5 h1 M1563 334.5 h2 M1563 331.5 h1 M1563 328.5 h1 M1563 325.5 h1 M1563 322.5 h1 M1563 319.5 h1 M1563 316.5 h1 M1563 313.5 h1 M1563 311.5 h1 M1563 308.5 h1 M1563 305.5 h2 M1563 302.5 h1 M1563 300.5 h1 M1563 297.5 h1 M1563 295.5 h1 M1563 292.5 h1 M1563 289.5 h1 M1563 287.5 h1 M1563 284.5 h1 M1563 282.5 h1 M1563 279.5 h2 M1563 277.5 h1 M1563 275.5 h1 M1563 272.5 h1 M1563 270.5 h1 M1563 267.5 h1 M1563 265.5 h1 M1563 263.5 h1 M1563 261.5 h1 M1563 258.5 h1 M1563 256.5 h2 M1563 254.5 h1 M1563 252.5 h1 M1563 249.5 h1 M1563 247.5 h1 M1563 245.5 h1 M1563 243.5 h1 M1563 241.5 h1 M1563 239.5 h1 M1563 237.5 h1 M1563 234.5 h2 M1563 232.5 h1 M1563 230.5 h1 M1563 228.5 h1 M1563 226.5 h1 M1563 224.5 h1 M1563 222.5 h1 M1563 220.5 h1 M1563 218.5 h1 M1563 216.5 h1 M1563 214.5 h2 M1563 213.5 h1 M1563 211.5 h1 M1563 209.5 h1 M1563 207.5 h1 M1563 205.5 h1 M1563 203.5 h1 M1563 201.5 h1 M1563 200.5 h1 M1563 198.5 h1 M1563 196.5 h2 M1563 192.5 h1 M1563 189.5 h1 M1563 185.5 h1 M1563 182.5 h1 M1563 179.5 h2 M1563 175.5 h1 M1563 172.5 h1 M1563 169.5 h1 M1563 165.5 h1 M1563 162.5 h2 M1563 159.5 h1 M1563 156.5 h1 M1563 153.5 h1 M1563 150.5 h1 M1563 147.5 h2 M1563 144.5 h1 M1563 141.5 h1 M1563 138.5 h1 M1563 135.5 h1 M1563 132.5 h2 M1563 129.5 h1 M1563 127.5 h1 M1563 124.5 h1 M1563 121.5 h1 M1563 118.5 h2 M1563 116.5 h1 M1563 113.5 h1 M1563 110.5 h1 M1563 108.5 h1 M1563 105.5 h2 M1563 103.5 h1 M1563 100.5 h1 M1563 98.5 h1 M1563 95.5 h1 M1563 93.5 h2 M1563 90.5 h1 M1563 88.5 h1 M1563 85.5 h1 M1563 83.5 h1 M1563 81.5 h2 M1563 78.5 h1 M1563 76.5 h1 M1563 74.5 h1 M1563 72.5 h1 M1563 69.5 h2 M1563 67.5 h1 M1563 65.5 h1 M1563 63.5 h1 M1563 60.5 h1 M1563 58.5 h2 M1563 56.5 h1 M1563 54.5 h1 M1563 52.5 h1 M1563 50.5 h1 M1563 48.5 h2 M1563 46.5 h1 M1563 44.5 h1 M1563 42.5 h1 M1563 40.5 h1 M1563 38.5 h2 M1563 36.5 h1 M1563 683.5 h1 M1563 679.5 h1 M1563 674.5 h1 M1563 670.5 h2 M1563 666.5 h1 M1563 662.5 h1 M1563 658.5 h1 M1563 654.5 h1 M1563 649.5 h2 M1563 645.5 h1 M1563 641.5 h1 M1563 637.5 h1 M1563 633.5 h1 M1563 628.5 h2 M1563 624.5 h1 M1563 620.5 h1 M1563 616.5 h1 M1563 612.5 h1 M1563 608.5 h2 M1563 603.5 h1 M1563 599.5 h1 M1563 595.5 h1 M1563 591.5 h1 M1563 587.5 h2 M1563 583.5 h1 M1563 578.5 h1 M1563 574.5 h1 M1563 570.5 h1 M1563 566.5 h2 M1563 562.5 h1 M1563 558.5 h1 M1563 553.5 h1 M1563 549.5 h1 M1563 545.5 h2 M1563 541.5 h1 M1563 537.5 h1 M1563 533.5 h1 M1563 528.5 h1 M1563 524.5 h2 M1563 520.5 h1"/>
</g>
<g font-size="9.8" fill="#00001c" stroke="#00001c" stroke-width="0.2">
<text x="1566" y="495.1" letter-spacing="0.3">1.0</text>
<text x="1566" y="445.9" letter-spacing="0.3">1.2</text>
<text x="1566" y="404.4" letter-spacing="0.3">1.4</text>
<text x="1566" y="368.4" letter-spacing="0.3">1.6</text>
<text x="1566" y="336.7" letter-spacing="0.3">1.8</text>
<text x="1566" y="308.3" letter-spacing="0.3">2.0</text>
<text x="1566" y="282.6" letter-spacing="0.3">2.2</text>
<text x="1566" y="259.2" letter-spacing="0.3">2.4</text>
<text x="1566" y="237.6" letter-spacing="0.3">2.6</text>
<text x="1566" y="217.7" letter-spacing="0.3">2.8</text>
<text x="1566" y="199.1" letter-spacing="0.3">3.0</text>
<text x="1566" y="181.7" letter-spacing="0.3">3.2</text>
<text x="1566" y="165.4" letter-spacing="0.3">3.4</text>
<text x="1566" y="150.0" letter-spacing="0.3">3.6</text>
<text x="1566" y="135.4" letter-spacing="0.3">3.8</text>
<text x="1566" y="121.6" letter-spacing="0.3">4.0</text>
<text x="1566" y="108.4" letter-spacing="0.3">4.2</text>
<text x="1566" y="95.9" letter-spacing="0.3">4.4</text>
<text x="1566" y="83.9" letter-spacing="0.3">4.6</text>
<text x="1566" y="72.5" letter-spacing="0.3">4.8</text>
<text x="1566" y="61.5" letter-spacing="0.3">5.0</text>
<text x="1566" y="50.9" letter-spacing="0.3">5.2</text>
<text x="1566" y="40.7" letter-spacing="0.3">5.4</text>
<text x="1566" y="527.3">125</text>
<text x="1566" y="548.1">100</text>
<text x="1566" y="569.0">75</text>
<text x="1566" y="589.9">50</text>
<text x="1566" y="610.7">25</text>
<text x="1566" y="631.6">0</text>
<text x="1566" y="652.5">-25</text>
<text x="1566" y="673.3">-50</text>
</g>
<g font-size="10" fill="#00001c" text-anchor="middle">
<text x="16.5" y="515.2" font-weight="bold" font-size="11">06</text>
<text x="40.7" y="514.9" letter-spacing="0.3">Apr</text>
<text x="64.6" y="514.9" letter-spacing="0.3">Jul</text>
<text x="87.7" y="514.9" letter-spacing="0.3">Oct</text>
<text x="110.6" y="515.2" font-weight="bold" font-size="11">07</text>
<text x="134.6" y="514.9" letter-spacing="0.3">Apr</text>
<text x="157.7" y="514.9" letter-spacing="0.3">Jul</text>
<text x="180.8" y="514.9" letter-spacing="0.3">Oct</text>
<text x="206.5" y="515.2" font-weight="bold" font-size="11">08</text>
<text x="229.6" y="514.9" letter-spacing="0.3">Apr</text>
<text x="253.7" y="514.9" letter-spacing="0.3">Jul</text>
<text x="277.1" y="514.9" letter-spacing="0.3">Oct</text>
<text x="300.0" y="515.2" font-weight="bold" font-size="11">09</text>
<text x="323.9" y="514.9" letter-spacing="0.3">Apr</text>
<text x="347.1" y="514.9" letter-spacing="0.3">Jul</text>
<text x="370.8" y="514.9" letter-spacing="0.3">Oct</text>
<text x="393.8" y="515.2" font-weight="bold" font-size="11">10</text>
<text x="417.7" y="514.9" letter-spacing="0.3">Apr</text>
<text x="441.2" y="514.9" letter-spacing="0.3">Jul</text>
<text x="464.6" y="514.9" letter-spacing="0.3">Oct</text>
<text x="487.5" y="515.2" font-weight="bold" font-size="11">11</text>
<text x="511.2" y="514.9" letter-spacing="0.3">Apr</text>
<text x="534.6" y="514.9" letter-spacing="0.3">Jul</text>
<text x="558.0" y="514.9" letter-spacing="0.3">Oct</text>
<text x="581.0" y="515.2" font-weight="bold" font-size="11">12</text>
<text x="604.6" y="514.9" letter-spacing="0.3">Apr</text>
<text x="628.0" y="514.9" letter-spacing="0.3">Jul</text>
<text x="651.7" y="514.9" letter-spacing="0.3">Oct</text>
<text x="676.5" y="515.2" font-weight="bold" font-size="11">13</text>
<text x="699.0" y="514.9" letter-spacing="0.3">Apr</text>
<text x="722.1" y="514.9" letter-spacing="0.3">Jul</text>
<text x="746.5" y="514.9" letter-spacing="0.3">Oct</text>
<text x="770.0" y="515.2" font-weight="bold" font-size="11">14</text>
<text x="793.7" y="514.9" letter-spacing="0.3">Apr</text>
<text x="817.7" y="514.9" letter-spacing="0.3">Jul</text>
<text x="841.2" y="514.9" letter-spacing="0.3">Oct</text>
<text x="863.9" y="515.2" font-weight="bold" font-size="11">15</text>
<text x="887.7" y="514.9" letter-spacing="0.3">Apr</text>
<text x="911.2" y="514.9" letter-spacing="0.3">Jul</text>
<text x="935.0" y="514.9" letter-spacing="0.3">Oct</text>
<text x="957.8" y="515.2" font-weight="bold" font-size="11">16</text>
<text x="981.2" y="514.9" letter-spacing="0.3">Apr</text>
<text x="1004.0" y="514.9" letter-spacing="0.3">Jul</text>
<text x="1028.0" y="514.9" letter-spacing="0.3">Oct</text>
<text x="1051.5" y="515.2" font-weight="bold" font-size="11">17</text>
<text x="1075.2" y="514.9" letter-spacing="0.3">Apr</text>
<text x="1099.0" y="514.9" letter-spacing="0.3">Jul</text>
<text x="1122.1" y="514.9" letter-spacing="0.3">Oct</text>
<text x="1144.8" y="515.2" font-weight="bold" font-size="11">18</text>
<text x="1168.7" y="514.9" letter-spacing="0.3">Apr</text>
<text x="1192.1" y="514.9" letter-spacing="0.3">Jul</text>
<text x="1215.2" y="514.9" letter-spacing="0.3">Oct</text>
<text x="1240.2" y="515.2" font-weight="bold" font-size="11">19</text>
<text x="1262.7" y="514.9" letter-spacing="0.3">Apr</text>
<text x="1285.8" y="514.9" letter-spacing="0.3">Jul</text>
<text x="1310.8" y="514.9" letter-spacing="0.3">Oct</text>
<text x="1334.8" y="515.2" font-weight="bold" font-size="11">20</text>
<text x="1358.0" y="514.9" letter-spacing="0.3">Apr</text>
<text x="1380.8" y="514.9" letter-spacing="0.3">Jul</text>
<text x="1404.6" y="514.9" letter-spacing="0.3">Oct</text>
<text x="1427.5" y="515.2" font-weight="bold" font-size="11">21</text>
<text x="1451.5" y="514.9" letter-spacing="0.3">Apr</text>
<text x="1475.0" y="514.9" letter-spacing="0.3">Jul</text>
<text x="1498.3" y="514.9" letter-spacing="0.3">Oct</text>
<text x="1521.2" y="515.2" font-weight="bold" font-size="11">22</text>
<text x="1545.2" y="514.9" letter-spacing="0.3">Apr</text>
</g>
<g font-size="10" fill="#00001c" text-anchor="middle">
<text x="16.5" y="695.2" font-weight="bold" font-size="11">06</text>
<text x="40.7" y="694.9" letter-spacing="0.3">Apr</text>
<text x="64.6" y="694.9" letter-spacing="0.3">Jul</text>
<text x="87.7" y="694.9" letter-spacing="0.3">Oct</text>
<text x="110.6" y="695.2" font-weight="bold" font-size="11">07</text>
<text x="134.6" y="694.9" letter-spacing="0.3">Apr</text>
<text x="157.7" y="694.9" letter-spacing="0.3">Jul</text>
<text x="180.8" y="694.9" letter-spacing="0.3">Oct</text>
<text x="206.5" y="695.2" font-weight="bold" font-size="11">08</text>
<text x="229.6" y="694.9" letter-spacing="0.3">Apr</text>
<text x="253.7" y="694.9" letter-spacing="0.3">Jul</text>
<text x="277.1" y="694.9" letter-spacing="0.3">Oct</text>
<text x="300.0" y="695.2" font-weight="bold" font-size="11">09</text>
<text x="323.9" y="694.9" letter-spacing="0.3">Apr</text>
<text x="347.1" y="694.9" letter-spacing="0.3">Jul</text>
<text x="370.8" y="694.9" letter-spacing="0.3">Oct</text>
<text x="393.8" y="695.2" font-weight="bold" font-size="11">10</text>
<text x="417.7" y="694.9" letter-spacing="0.3">Apr</text>
<text x="441.2" y="694.9" letter-spacing="0.3">Jul</text>
<text x="464.6" y="694.9" letter-spacing="0.3">Oct</text>
<text x="487.5" y="695.2" font-weight="bold" font-size="11">11</text>
<text x="511.2" y="694.9" letter-spacing="0.3">Apr</text>
<text x="534.6" y="694.9" letter-spacing="0.3">Jul</text>
<text x="558.0" y="694.9" letter-spacing="0.3">Oct</text>
<text x="581.0" y="695.2" font-weight="bold" font-size="11">12</text>
<text x="604.6" y="694.9" letter-spacing="0.3">Apr</text>
<text x="628.0" y="694.9" letter-spacing="0.3">Jul</text>
<text x="651.7" y="694.9" letter-spacing="0.3">Oct</text>
<text x="676.5" y="695.2" font-weight="bold" font-size="11">13</text>
<text x="699.0" y="694.9" letter-spacing="0.3">Apr</text>
<text x="722.1" y="694.9" letter-spacing="0.3">Jul</text>
<text x="746.5" y="694.9" letter-spacing="0.3">Oct</text>
<text x="770.0" y="695.2" font-weight="bold" font-size="11">14</text>
<text x="793.7" y="694.9" letter-spacing="0.3">Apr</text>
<text x="817.7" y="694.9" letter-spacing="0.3">Jul</text>
<text x="841.2" y="694.9" letter-spacing="0.3">Oct</text>
<text x="863.9" y="695.2" font-weight="bold" font-size="11">15</text>
<text x="887.7" y="694.9" letter-spacing="0.3">Apr</text>
<text x="911.2" y="694.9" letter-spacing="0.3">Jul</text>
<text x="935.0" y="694.9" letter-spacing="0.3">Oct</text>
<text x="957.8" y="695.2" font-weight="bold" font-size="11">16</text>
<text x="981.2" y="694.9" letter-spacing="0.3">Apr</text>
<text x="1004.0" y="694.9" letter-spacing="0.3">Jul</text>
<text x="1028.0" y="694.9" letter-spacing="0.3">Oct</text>
<text x="1051.5" y="695.2" font-weight="bold" font-size="11">17</text>
<text x="1075.2" y="694.9" letter-spacing="0.3">Apr</text>
<text x="1099.0" y="694.9" letter-spacing="0.3">Jul</text>
<text x="1122.1" y="694.9" letter-spacing="0.3">Oct</text>
<text x="1144.8" y="695.2" font-weight="bold" font-size="11">18</text>
<text x="1168.7" y="694.9" letter-spacing="0.3">Apr</text>
<text x="1192.1" y="694.9" letter-spacing="0.3">Jul</text>
<text x="1215.2" y="694.9" letter-spacing="0.3">Oct</text>
<text x="1240.2" y="695.2" font-weight="bold" font-size="11">19</text>
<text x="1262.7" y="694.9" letter-spacing="0.3">Apr</text>
<text x="1285.8" y="694.9" letter-spacing="0.3">Jul</text>
<text x="1310.8" y="694.9" letter-spacing="0.3">Oct</text>
<text x="1334.8" y="695.2" font-weight="bold" font-size="11">20</text>
<text x="1358.0" y="694.9" letter-spacing="0.3">Apr</text>
<text x="1380.8" y="694.9" letter-spacing="0.3">Jul</text>
<text x="1404.6" y="694.9" letter-spacing="0.3">Oct</text>
<text x="1427.5" y="695.2" font-weight="bold" font-size="11">21</text>
<text x="1451.5" y="694.9" letter-spacing="0.3">Apr</text>
<text x="1475.0" y="694.9" letter-spacing="0.3">Jul</text>
<text x="1498.3" y="694.9" letter-spacing="0.3">Oct</text>
<text x="1521.2" y="695.2" font-weight="bold" font-size="11">22</text>
<text x="1545.2" y="694.9" letter-spacing="0.3">Apr</text>
</g>
<text x="16.5" y="13.6" font-size="14" font-weight="bold" fill="#00001c" textLength="53.5" lengthAdjust="spacingAndGlyphs">$UST20Y</text>
<text x="74.8" y="13" font-size="11.5" fill="#00001c" textLength="163.2" lengthAdjust="spacingAndGlyphs">20-Year US Treasury Yield (EOD)</text>
<text x="242.4" y="13" font-size="9" fill="#00001c" textLength="22.7" lengthAdjust="spacingAndGlyphs">INDX</text>
<text x="16.1" y="26" font-size="9.5" fill="#00001c" textLength="52.1" lengthAdjust="spacingAndGlyphs">4-Jan-2022</text>
<text x="1473" y="12.6" font-size="11" fill="#223a5c" textLength="89.4" lengthAdjust="spacingAndGlyphs">© StockCharts.com</text>
<text x="1225.9" y="25.7" font-size="11" font-weight="bold" fill="#00001c" textLength="28.5" lengthAdjust="spacingAndGlyphs">Open</text>
<text x="1257.8" y="25.7" font-size="10.5" fill="#00001c" textLength="20.5" lengthAdjust="spacingAndGlyphs">2.05</text>
<text x="1284.4" y="25.7" font-size="11" font-weight="bold" fill="#00001c" textLength="23.6" lengthAdjust="spacingAndGlyphs">High</text>
<text x="1311.7" y="25.7" font-size="10.5" fill="#00001c" textLength="20.3" lengthAdjust="spacingAndGlyphs">2.10</text>
<text x="1338.5" y="25.7" font-size="11" font-weight="bold" fill="#00001c" textLength="23.0" lengthAdjust="spacingAndGlyphs">Low</text>
<text x="1365.6" y="25.7" font-size="10.5" fill="#00001c" textLength="20.4" lengthAdjust="spacingAndGlyphs">2.05</text>
<text x="1392.7" y="25.7" font-size="11" font-weight="bold" fill="#00001c" textLength="31.2" lengthAdjust="spacingAndGlyphs">Close</text>
<text x="1427.6" y="25.7" font-size="10.5" fill="#00001c" textLength="20.4" lengthAdjust="spacingAndGlyphs">2.10</text>
<text x="1454.6" y="25.7" font-size="11" font-weight="bold" fill="#00001c" textLength="21.4" lengthAdjust="spacingAndGlyphs">Chg</text>
<text x="1480.0" y="25.7" font-size="10.5" fill="#00001c" textLength="26.0" lengthAdjust="spacingAndGlyphs">+0.16</text>
<text x="1510.0" y="25.7" font-size="10.5" fill="#00001c" textLength="43.0" lengthAdjust="spacingAndGlyphs">(+8.25%)</text>
<path d="M1555.6 25.2 L1562.4 25.2 L1559 20.7 Z" fill="#2e6b4f"/>
<path d="M49.1 67.5 V580.8" stroke="#e00000" stroke-width="2.2" fill="none"/>
<path d="M43.0 578.3 L55.2 578.3 L49.8 590.1 L48.4 590.1 Z" fill="#f00010"/>
<path d="M363.1 137.0 V576.6" stroke="#c80014" stroke-width="2.2" fill="none" stroke-dasharray="4 2"/>
<path d="M357.0 574.1 L369.2 574.1 L363.8 585.9 L362.4 585.9 Z" fill="#f00010"/>
<path d="M532.1 126.0 V594.8" stroke="#b41212" stroke-width="2.2" fill="none"/>
<path d="M526.0 592.3 L538.2 592.3 L532.8 604.1 L531.4 604.1 Z" fill="#f00010"/>
<path d="M691.0 229.3 V587.3" stroke="#e00000" stroke-width="2.2" fill="none"/>
<path d="M684.9 584.8 L697.1 584.8 L691.7 596.6 L690.3 596.6 Z" fill="#f00010"/>
<path d="M730.0 188.0 V572.5" stroke="#cc0a0a" stroke-width="2.2" fill="none"/>
<path d="M723.9 570.0 L736.1 570.0 L730.7 581.8 L729.3 581.8 Z" fill="#f00010"/>
<path d="M773.0 162.7 V564.5" stroke="#e00000" stroke-width="2.2" fill="none"/>
<path d="M766.9 562.0 L779.1 562.0 L773.7 573.8 L772.3 573.8 Z" fill="#f00010"/>
<path d="M939.0 258.0 V585.4" stroke="#e00000" stroke-width="2.2" fill="none"/>
<path d="M932.9 582.9 L945.1 582.9 L939.7 594.7 L938.3 594.7 Z" fill="#f00010"/>
<path d="M1076.0 237.0 V564.8" stroke="#b81418" stroke-width="2.2" fill="none"/>
<path d="M1069.9 562.3 L1082.1 562.3 L1076.7 574.1 L1075.3 574.1 Z" fill="#f00010"/>
<path d="M1215.0 210.3 V592.3" stroke="#e00000" stroke-width="2.2" fill="none"/>
<path d="M1208.9 589.8 L1221.1 589.8 L1215.7 601.6 L1214.3 601.6 Z" fill="#f00010"/>
<path d="M1454.0 290.2 V511.6" stroke="#b81418" stroke-width="2.2" fill="none"/>
<path d="M1447.9 509.1 L1460.1 509.1 L1454.7 520.9 L1453.3 520.9 Z" fill="#f00010"/>
<path d="M224.2 620.6 V130.1" stroke="#128a12" stroke-width="2.2" fill="none"/>
<path d="M218.1 132.6 L230.3 132.6 L224.9 121.6 L223.5 121.6 Z" fill="#109a18"/>
<path d="M298.0 628.5 V211.0" stroke="#128a12" stroke-width="2.2" fill="none"/>
<path d="M291.9 213.5 L304.1 213.5 L298.7 202.5 L297.3 202.5 Z" fill="#109a18"/>
<path d="M467.0 625.6 V181.1" stroke="#128612" stroke-width="2.2" fill="none"/>
<path d="M460.9 183.6 L473.1 183.6 L467.7 172.6 L466.3 172.6 Z" fill="#109a18"/>
<path d="M575.3 651.5 V266.1" stroke="#128612" stroke-width="2.2" fill="none"/>
<path d="M569.2 268.6 L581.4 268.6 L576.0 257.6 L574.6 257.6 Z" fill="#109a18"/>
<path d="M867.0 649.4 V334.9" stroke="#0e7c0e" stroke-width="2.2" fill="none"/>
<path d="M860.9 337.4 L873.1 337.4 L867.7 326.4 L866.3 326.4 Z" fill="#109a18"/>
<path d="M979.1 640.5 V318.0" stroke="#128a12" stroke-width="2.2" fill="none" stroke-dasharray="4 2"/>
<path d="M973.0 320.5 L985.2 320.5 L979.8 309.5 L978.4 309.5 Z" fill="#109a18"/>
<path d="M1008.0 649.8 V373.1" stroke="#187c18" stroke-width="2.2" fill="none"/>
<path d="M1001.9 375.6 L1014.1 375.6 L1008.7 364.6 L1007.3 364.6 Z" fill="#109a18"/>
<path d="M1359.3 668.8 V507.2" stroke="#128a12" stroke-width="2.2" fill="none"/>
<path d="M1353.2 509.7 L1365.4 509.7 L1360.0 498.7 L1358.6 498.7 Z" fill="#109a18"/>
<path d="M1516.1 633.5 V366.1" stroke="#187c18" stroke-width="2.2" fill="none"/>
<path d="M1510.0 368.6 L1522.2 368.6 L1516.8 357.6 L1515.4 357.6 Z" fill="#109a18"/>
<path d="M1447.5 262.3 L1543.3 312.9" stroke="#1a961a" stroke-width="2.2" fill="none"/>
<path d="M1560.5 291.5 L1564.5 286.5 H1587.5 V297.5 H1564.5 Z" fill="#fff" stroke="#000" stroke-width="1"/>
<text x="1565.3" y="295.5" font-size="10.5" font-weight="bold" fill="#000" textLength="20.5" lengthAdjust="spacingAndGlyphs">2.10</text>
<path d="M1560.5 632.5 L1564.5 627.5 H1590.5 V637.5 H1564.5 Z" fill="#fff" stroke="#000" stroke-width="1"/>
<text x="1565.5" y="636.2" font-size="10" fill="#000" textLength="23.5" lengthAdjust="spacingAndGlyphs">-5.83</text>
</svg></body></html>
